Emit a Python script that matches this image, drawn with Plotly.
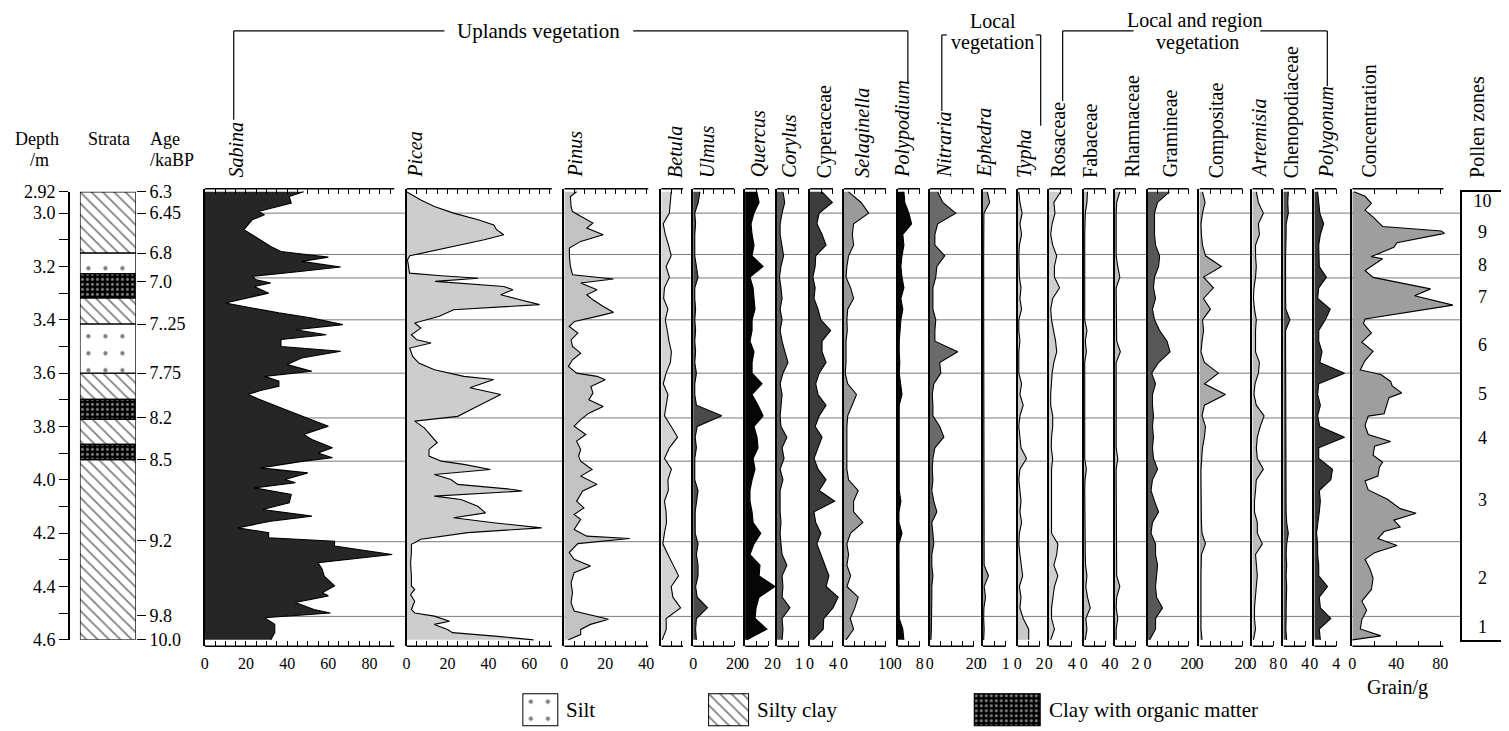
import plotly.graph_objects as go

# ======================= DATA =======================
TAXA = ["Sabina", "Picea", "Pinus", "Betula", "Ulmus", "Quercus", "Corylus",
        "Cyperaceae", "Selaginella", "Polypodium", "Nitraria", "Ephedra", "Typha",
        "Rosaceae", "Fabaceae", "Rhamnaceae", "Gramineae", "Compositae",
        "Artemisia", "Chenopodiaceae", "Polygonum", "Concentration"]
ITALIC = [True, True, True, True, True, True, True, False, True, True, True, True, True,
          False, False, False, False, False, True, False, True, False]

AXIS_MAX = [92, 71, 41, 10.7, 20, 2, 1, 4, 10, 8, 20, 1, 2, 4, 4, 2, 20, 20, 8, 4, 4, 83]
TICK_STEP = [5, 5, 5, 5, 5, 1, 0.5, 2, 2.5, 4, 5, 0.5, 1, 2, 2, 1, 5, 5, 4, 2, 2, 20]
TICK_LABELS = [[0, 20, 40, 60, 80], [0, 20, 40, 60], [0, 20, 40], [], [0, 20], [0, 2], [0, 1],
               [0, 4], [0, 10], [0, 8], [0, 20], [0, 1], [0, 2], [0, 4], [0, 4], [0, 2],
               [0, 20], [0, 20], [0, 8], [0, 4], [0, 4], [0, 40, 80]]

ZONE_BOUNDS = [3.00, 3.155, 3.243, 3.40, 3.60, 3.768, 3.93, 4.232, 4.512]
ZONE_NAMES = ["10", "9", "8", "7", "6", "5", "4", "3", "2", "1"]

DEPTH_TICKS = [2.92, 3.0, 3.1, 3.2, 3.3, 3.4, 3.5, 3.6, 3.7, 3.8, 3.9, 4.0, 4.1, 4.2, 4.3, 4.4, 4.5, 4.6]
DEPTH_LABELS = ["2.92", "3.0", "", "3.2", "", "3.4", "", "3.6", "", "3.8", "", "4.0", "", "4.2", "", "4.4", "", "4.6"]
AGE_DEPTHS = [2.92, 3.0, 3.15, 3.258, 3.416, 3.60, 3.766, 3.924, 4.227, 4.51, 4.60]
AGE_LABELS = ["6.3", "6.45", "6.8", "7.0", "7..25", "7.75", "8.2", "8.5", "9.2", "9.8", "10.0"]

STRATA_TOP = [2.92, 3.15, 3.228, 3.318, 3.416, 3.60, 3.698, 3.773, 3.867, 3.924]
STRATA_BOTTOM = [3.15, 3.228, 3.318, 3.416, 3.60, 3.698, 3.773, 3.867, 3.924, 4.60]
STRATA_TYPE = ["Silty clay", "Silt", "Clay with organic matter", "Silty clay", "Silt",
               "Silty clay", "Clay with organic matter", "Silty clay",
               "Clay with organic matter", "Silty clay"]
LEGEND_TYPES = ["Silt", "Silty clay", "Clay with organic matter"]

SABINA_D = [2.92, 2.938, 2.962, 2.975, 2.994, 3.006, 3.025, 3.062, 3.081, 3.106,
            3.125, 3.144, 3.152, 3.165, 3.181, 3.202, 3.22, 3.237, 3.25, 3.262,
            3.275, 3.30, 3.312, 3.337, 3.356, 3.374, 3.393, 3.418, 3.437, 3.456,
            3.474, 3.50, 3.518, 3.543, 3.568, 3.593, 3.612, 3.63, 3.649, 3.665,
            3.68, 3.70, 3.736, 3.774, 3.799, 3.83, 3.849, 3.88, 3.899, 3.917,
            3.93, 3.955, 3.974, 3.999, 4.011, 4.03, 4.055, 4.086, 4.111, 4.136,
            4.155, 4.18, 4.198, 4.217, 4.23, 4.248, 4.28, 4.311, 4.335, 4.361,
            4.398, 4.423, 4.435, 4.46, 4.486, 4.499, 4.517, 4.542, 4.573, 4.60]
SABINA = [48, 41, 42, 36, 26, 29, 23, 19, 23, 28,
          32, 37, 47, 60, 47, 66, 45, 23, 25, 32,
          24, 31, 24, 10, 23, 36, 52, 67, 44, 59,
          37, 37, 66, 47, 40, 52, 29, 36, 36, 27,
          21, 27, 39, 52, 60, 48, 52, 62, 55, 62,
          48, 27, 50, 39, 44, 24, 42, 41, 28, 52,
          32, 16, 31, 31, 63, 63, 91, 55, 57, 58,
          63, 57, 60, 44, 53, 61, 29, 34, 34, 32]

PICEA_D = [2.92, 2.927, 2.951, 2.975, 3.0, 3.025, 3.044, 3.062, 3.081, 3.10,
           3.125, 3.144, 3.16, 3.175, 3.20, 3.225, 3.235, 3.244, 3.256, 3.275,
           3.287, 3.306, 3.325, 3.343, 3.362, 3.374, 3.387, 3.412, 3.431, 3.456,
           3.475, 3.487, 3.506, 3.537, 3.562, 3.587, 3.612, 3.624, 3.655, 3.68,
           3.706, 3.731, 3.762, 3.78, 3.805, 3.836, 3.861, 3.886, 3.911, 3.93,
           3.942, 3.961, 3.98, 3.999, 4.017, 4.036, 4.042, 4.061, 4.074, 4.099,
           4.124, 4.142, 4.161, 4.18, 4.198, 4.223, 4.242, 4.273, 4.311, 4.361,
           4.398, 4.411, 4.43, 4.455, 4.486, 4.499, 4.511, 4.53, 4.542, 4.561,
           4.573, 4.588, 4.60]
PICEA = [0, 1.5, 7, 13.6, 23, 35, 42.6, 44, 47.5, 38,
         23, 12, 1.6, 0.5, 1, 1.5, 17, 35, 14, 47.5,
         52, 46, 55.5, 65, 23, 20, 16, 4, 7, 2.4,
         5, 12, 1.6, 3, 6, 13.6, 28, 42.6, 31, 46,
         39.6, 33, 25, 4, 8.7, 12, 15, 11, 11, 17,
         28, 41, 13.6, 21.7, 25, 52, 56.5, 13.6, 26.6, 34.8,
         38.6, 23, 42.5, 66, 30, 7, 2.4, 2.4, 2, 2.4,
         2.4, 4, 2, 4, 2.4, 4, 13.6, 21, 13.6, 20,
         22.5, 46, 62]

PINUS_D = [2.92, 2.938, 2.975, 2.994, 3.012, 3.037, 3.056, 3.081, 3.106, 3.131,
           3.162, 3.20, 3.231, 3.247, 3.262, 3.287, 3.306, 3.325, 3.35, 3.372,
           3.387, 3.406, 3.425, 3.45, 3.475, 3.50, 3.525, 3.55, 3.575, 3.60,
           3.612, 3.625, 3.65, 3.675, 3.70, 3.725, 3.75, 3.774, 3.799, 3.83,
           3.855, 3.886, 3.911, 3.93, 3.961, 3.986, 4.017, 4.042, 4.08, 4.105,
           4.13, 4.148, 4.186, 4.211, 4.22, 4.239, 4.273, 4.298, 4.323, 4.348,
           4.386, 4.423, 4.461, 4.492, 4.523, 4.542, 4.561, 4.58, 4.60]
PINUS = [6, 3, 3.3, 4, 8, 14, 11, 19, 8, 2.5,
         2.5, 3, 4, 24, 8, 16, 11, 14, 19, 24,
         16, 5, 2.4, 6.6, 3.3, 4, 8, 4, 2, 6,
         16, 20, 13, 14, 12, 19, 12, 8, 4.8, 10.5,
         6, 8, 7, 8, 13.6, 8, 16, 9, 6, 9.6,
         4.8, 8, 4.8, 11, 32, 6.6, 2.4, 4.8, 12.8, 4.8,
         3.3, 4, 3.3, 4.8, 21.6, 12.8, 8, 8, 2]

CONC_D = [2.92, 2.937, 2.963, 2.989, 3.015, 3.05, 3.067, 3.076, 3.111, 3.128,
          3.163, 3.171, 3.215, 3.241, 3.284, 3.31, 3.345, 3.397, 3.414, 3.449,
          3.484, 3.518, 3.553, 3.588, 3.605, 3.631, 3.648, 3.674, 3.692, 3.726,
          3.752, 3.761, 3.796, 3.83, 3.856, 3.874, 3.908, 3.934, 3.952, 3.986,
          4.004, 4.038, 4.073, 4.108, 4.125, 4.151, 4.177, 4.194, 4.22, 4.246,
          4.273, 4.298, 4.333, 4.368, 4.411, 4.455, 4.489, 4.524, 4.559, 4.585,
          4.60]
CONC = [1.5, 11.6, 17.4, 11.6, 19, 27.6, 81, 84, 40.7, 37.8,
        17.4, 27.6, 11.6, 18.9, 71.2, 56.7, 91.6, 11.6, 10.2, 17.4,
        8.7, 18.9, 11.6, 7.3, 26, 34.9, 36.3, 45, 33.4, 30.5,
        29, 14.5, 11.6, 14.5, 34.9, 20.3, 18.9, 27.6, 24.7, 23.3,
        11.6, 14.5, 32, 43.6, 58.1, 37.8, 43.6, 29, 23.3, 40.7,
        20.3, 11.6, 16, 18.9, 17.4, 8.7, 13.1, 8.7, 7.3, 26,
        0]

# common sampling depths for the minor taxa
GRID = [2.92, 2.96, 3.00, 3.04, 3.08, 3.12, 3.16, 3.20, 3.24, 3.28,
        3.32, 3.36, 3.40, 3.44, 3.48, 3.52, 3.56, 3.60, 3.64, 3.68,
        3.72, 3.76, 3.80, 3.84, 3.88, 3.92, 3.96, 4.00, 4.04, 4.08,
        4.12, 4.16, 4.20, 4.24, 4.28, 4.32, 4.36, 4.40, 4.44, 4.48,
        4.52, 4.56, 4.60]
BETULA = [4.9, 4.5, 4.0, 1.0, 2.0, 3.6, 4.9, 2.4, 4.0, 1.6,
          1.2, 3.3, 2.0, 3.0, 3.8, 5.0, 4.5, 2.4, 1.0, 3.3,
          2.4, 1.6, 4.9, 8.0, 4.0, 1.6, 5.0, 3.3, 3.5, 1.6,
          2.4, 2.6, 1.6, 0.8, 3.3, 5.7, 8.5, 4.9, 5.7, 9.5,
          2.4, 2.5, 0.5]
ULMUS = [3.3, 2.5, 0.8, 1.2, 0.8, 0.8, 0.8, 1.6, 2.4, 0.8,
         0.8, 1.2, 0.8, 1.2, 0.8, 1.2, 0.8, 1.6, 0.8, 0.8,
         1.6, 14, 2.0, 1.0, 1.6, 0.8, 0.8, 0.8, 2.4, 1.6,
         1.0, 1.0, 1.0, 2.4, 1.6, 2.4, 2.4, 1.2, 2.0, 7.0,
         1.6, 1.2, 1.6]
QUERCUS = [1.02, 1.22, 0.78, 0.52, 0.61, 0.78, 0.61, 1.57, 0.43, 0.7,
           0.78, 0.87, 0.61, 0.61, 0.43, 0.78, 0.61, 0.61, 1.48, 0.61,
           1.13, 1.57, 0.78, 1.04, 1.13, 0.7, 0.87, 0.61, 0.43, 0.43,
           0.61, 0.7, 1.37, 0.78, 0.43, 1.3, 1.22, 2.61, 1.22, 0.96,
           0.87, 1.9, 0.17]
CORYLUS = [0.27, 0.35, 0.23, 0.14, 0.14, 0.23, 0.3, 0.18, 0.11, 0.18,
           0.23, 0.14, 0.23, 0.14, 0.23, 0.36, 0.5, 0.27, 0.14, 0.23,
           0.18, 0.14, 0.18, 0.45, 0.23, 0.32, 0.14, 0.27, 0.14, 0.14,
           0.14, 0.18, 0.14, 0.18, 0.23, 0.45, 0.23, 0.27, 0.23, 0.59,
           0.23, 0.27, 0.23]
CYPERACEAE = [2.1, 3.9, 1.6, 1.2, 2.1, 2.8, 1.0, 0.9, 0.5, 0.9,
              0.7, 1.4, 1.9, 3.6, 2.1, 2.1, 2.8, 1.6, 1.0, 1.4,
              2.8, 1.6, 0.9, 2.1, 1.4, 0.7, 1.4, 2.8, 1.6, 4.3,
              0.7, 1.0, 1.9, 1.2, 1.9, 2.6, 3.3, 2.8, 4.9, 4.0,
              2.4, 2.3, 0.5]
SELAGINELLA = [1.1, 4.1, 5.9, 2.3, 2.0, 2.3, 1.1, 0.7, 0.5, 1.6,
               2.3, 0.9, 0.7, 0.8, 0.5, 0.5, 0.5, 0.3, 0.9, 3.0,
               1.9, 0.9, 0.7, 0.7, 0.7, 0.7, 0.7, 1.1, 3.4, 2.3,
               2.3, 4.5, 1.6, 0.7, 1.1, 0.7, 1.6, 0.7, 3.4, 2.6,
               1.5, 2.3, 0.5]
POLYPODIUM = [2.2, 2.5, 4.0, 5.0, 1.8, 2.2, 1.5, 1.1, 1.5, 2.2,
              1.1, 1.8, 1.1, 0.7, 0.5, 0.5, 0.7, 0.5, 1.1, 1.5,
              0.5, 0.5, 0.5, 0.4, 0.4, 0.4, 0.4, 0.4, 0.5, 1.1,
              0.4, 0.4, 1.5, 0.4, 0.4, 0.4, 0.4, 0.4, 0.4, 0.4,
              0.5, 1.8, 2.2]
NITRARIA = [3.6, 5.9, 11.8, 3.6, 2.3, 2.3, 6.8, 3.2, 2.7, 1.4,
            1.4, 1.4, 2.7, 2.3, 2.3, 12.7, 4.5, 5.0, 1.8, 1.1,
            1.4, 1.4, 4.5, 6.4, 2.3, 1.4, 1.1, 1.4, 0.9, 1.8,
            3.2, 0.9, 1.4, 1.8, 0.9, 0.9, 1.4, 0.9, 0.9, 0.9,
            0.7, 0.7, 0.5]
EPHEDRA = [0.2, 0.3, 0.05, 0.04, 0.04, 0.04, 0.04, 0.04, 0.05, 0.04,
           0.04, 0.04, 0.04, 0.04, 0.04, 0.04, 0.04, 0.04, 0.04, 0.04,
           0.04, 0.04, 0.04, 0.04, 0.04, 0.04, 0.04, 0.04, 0.04, 0.05,
           0.04, 0.04, 0.04, 0.04, 0.04, 0.06, 0.25, 0.06, 0.12, 0.05,
           0.04, 0.06, 0.04]
TYPHA = [0.1, 0.2, 0.4, 0.2, 0.35, 0.15, 0.1, 0.1, 0.15, 0.3,
         0.2, 0.35, 0.1, 0.1, 0.2, 0.1, 0.1, 0.1, 0.35, 0.2,
         0.5, 0.2, 0.1, 0.2, 0.3, 0.8, 0.2, 0.1, 0.2, 0.3,
         0.2, 0.35, 0.15, 0.1, 0.2, 0.3, 0.45, 0.15, 0.3, 0.2,
         0.5, 1.0, 1.0]
ROSACEAE = [2.1, 0.9, 1.1, 0.6, 0.35, 0.7, 1.4, 1.0, 1.0, 1.9,
            0.7, 0.35, 0.5, 0.9, 1.2, 1.4, 0.9, 0.6, 0.45, 0.35,
            0.35, 0.7, 0.7, 0.5, 0.45, 0.7, 0.5, 0.5, 0.5, 0.5,
            0.5, 0.5, 0.5, 1.6, 1.4, 0.9, 1.6, 1.0, 0.7, 0.5,
            0.5, 1.0, 0.35]
FABACEAE = [0.7, 0.6, 0.3, 0.2, 0.2, 0.2, 0.2, 0.25, 0.2, 0.2,
            0.25, 0.2, 0.2, 0.6, 0.3, 0.5, 0.2, 0.2, 0.25, 0.2,
            0.2, 0.2, 0.3, 0.25, 0.2, 0.2, 0.5, 0.25, 0.2, 0.2,
            0.3, 0.2, 0.2, 0.25, 0.3, 0.35, 0.6, 0.4, 0.7, 1.2,
            0.4, 0.6, 0.3]
RHAMNACEAE = [0.5, 0.2, 0.15, 0.15, 0.15, 0.15, 0.15, 0.3, 0.5, 0.15,
              0.15, 0.15, 0.15, 0.15, 0.2, 0.55, 0.15, 0.15, 0.15, 0.15,
              0.15, 0.15, 0.15, 0.15, 0.15, 0.3, 0.15, 0.15, 0.15, 0.15,
              0.15, 0.15, 0.15, 0.15, 0.15, 0.15, 0.2, 0.5, 0.2, 0.15,
              0.3, 0.15, 0.15]
GRAMINEAE = [10.7, 4.9, 3.4, 3.4, 3.4, 3.9, 5.9, 5.4, 3.4, 2.9,
             3.9, 2.4, 3.4, 5.9, 9.5, 11.0, 5.4, 2.0, 3.9, 2.4,
             2.4, 2.9, 2.4, 2.9, 2.4, 2.9, 4.9, 2.4, 1.7, 3.4,
             5.4, 2.4, 1.7, 3.9, 3.9, 4.9, 4.4, 3.9, 4.4, 7.3,
             3.9, 3.9, 1.0]
COMPOSITAE = [1.4, 2.6, 1.4, 0.7, 0.9, 1.4, 2.8, 10.2, 1.9, 6.5,
              1.9, 5.1, 1.4, 1.9, 1.2, 0.7, 2.3, 8.8, 2.3, 12.1,
              2.3, 1.2, 2.8, 2.3, 1.4, 0.9, 0.7, 0.7, 0.7, 0.7,
              0.7, 0.9, 1.2, 2.8, 0.9, 0.7, 0.7, 0.7, 0.7, 0.7,
              0.9, 0.7, 1.2]
ARTEMISIA = [1.5, 2.3, 4.2, 2.3, 2.7, 1.2, 1.2, 1.5, 1.2, 0.6,
             0.4, 0.8, 1.5, 1.2, 1.2, 1.2, 2.7, 2.3, 1.0, 0.6,
             1.5, 4.5, 3.0, 1.9, 1.5, 1.9, 4.2, 1.5, 1.2, 0.8,
             0.8, 1.9, 1.9, 3.8, 1.2, 1.5, 1.9, 1.5, 1.2, 0.8,
             0.8, 1.2, 0.4]
CHENOPODIACEAE = [0.9, 0.8, 0.9, 0.5, 0.5, 0.4, 0.4, 0.4, 0.45, 0.4,
                  0.4, 0.45, 1.2, 0.4, 0.4, 0.4, 0.4, 0.4, 0.4, 0.4,
                  0.45, 0.45, 0.5, 0.5, 0.45, 0.45, 0.5, 0.45, 0.45, 0.5,
                  0.5, 0.6, 0.9, 0.6, 0.5, 0.6, 0.5, 0.6, 0.5, 0.5,
                  0.5, 0.45, 0.6]
POLYGONUM = [0.6, 0.8, 1.0, 1.7, 1.1, 0.8, 0.8, 0.9, 2.2, 0.8,
             0.6, 2.9, 2.0, 0.8, 0.8, 1.4, 1.0, 5.5, 0.8, 0.6,
             1.1, 0.6, 1.0, 5.5, 0.8, 0.8, 3.3, 3.0, 0.9, 1.1,
             0.9, 0.6, 0.4, 0.6, 0.6, 0.8, 0.8, 2.4, 0.9, 1.1,
             3.0, 0.9, 1.1]

SERIES = {
    "Sabina": (SABINA_D, SABINA), "Picea": (PICEA_D, PICEA), "Pinus": (PINUS_D, PINUS),
    "Betula": (GRID, BETULA), "Ulmus": (GRID, ULMUS), "Quercus": (GRID, QUERCUS),
    "Corylus": (GRID, CORYLUS), "Cyperaceae": (GRID, CYPERACEAE),
    "Selaginella": (GRID, SELAGINELLA), "Polypodium": (GRID, POLYPODIUM),
    "Nitraria": (GRID, NITRARIA), "Ephedra": (GRID, EPHEDRA), "Typha": (GRID, TYPHA),
    "Rosaceae": (GRID, ROSACEAE), "Fabaceae": (GRID, FABACEAE),
    "Rhamnaceae": (GRID, RHAMNACEAE), "Gramineae": (GRID, GRAMINEAE),
    "Compositae": (GRID, COMPOSITAE), "Artemisia": (GRID, ARTEMISIA),
    "Chenopodiaceae": (GRID, CHENOPODIACEAE), "Polygonum": (GRID, POLYGONUM),
    "Concentration": (CONC_D, CONC),
}

# ======================= LAYOUT / STYLE =======================
W, H = 1509, 731
FONT = "Liberation Serif"
ZERO_PX = [203, 405, 563, 660, 692, 744, 776, 809, 843, 897, 929, 982, 1017, 1048,
           1083, 1114, 1147, 1199, 1252, 1283, 1314, 1352]
PX_PER_UNIT = [2.0625, 2.05, 2.05, 2.05, 2.05, 11.5, 22, 5.75, 4.2, 2.75, 2.2, 23, 11,
               5.75, 5.5, 10.5, 2.05, 2.15, 2.6, 5.5, 5.5, 1.1]
LABEL_X = [234, 414, 574, 674, 706, 757, 789, 823, 862, 902, 943, 984, 1024, 1057,
           1090, 1131, 1169, 1216, 1258, 1291, 1326, 1369]
FILL = ["#262626", "#cdcdcd", "#c2c2c2", "#d4d4d4", "#4a4a4a", "#050505", "#5a5a5a",
        "#3c3c3c", "#9a9a9a", "#080808", "#6a6a6a", "#9c9c9c", "#c8c8c8", "#cfcfcf",
        "#bdbdbd", "#bdbdbd", "#575757", "#ababab", "#bdbdbd", "#555555", "#383838",
        "#9e9e9e"]
PATTERNS = {
    "Silty clay": dict(color="white", pattern=dict(shape="\\", fgcolor="black", bgcolor="white",
                                                   size=8, solidity=0.22)),
    "Silt": dict(color="white", pattern=dict(shape=".", fgcolor="black", bgcolor="white",
                                             size=17, solidity=0.05)),
    "Clay with organic matter": dict(color="black", pattern=dict(shape=".", fgcolor="white",
                                                                 bgcolor="black", size=5,
                                                                 solidity=0.3)),
}

# page-pixel positions below are converted to figure fractions by px_x / px_y
PX_PER_M = 267.0
Y0_PX = 192.0          # row of depth 2.92
D_TOP, D_BOT = 2.92, 4.60
PANEL_TOP_PX, PANEL_BOT_PX = 189, 647
OVERSHOOT_PX = 14
LABEL_BOTTOM_PX = 180


def px_x(p):
    return (p - 10 + 2 * p / 1462) / W


def px_y(p):
    return 1 - (1.027 * p - 18.5) / H


def depth_px(d):
    return Y0_PX + (d - D_TOP) * PX_PER_M


def fmt(v):
    return str(int(v)) if abs(v - round(v)) < 1e-9 else str(v)


panel_range = [D_TOP + (PANEL_BOT_PX - Y0_PX) / PX_PER_M, D_TOP + (PANEL_TOP_PX - Y0_PX) / PX_PER_M]
panel_ydom = [px_y(PANEL_BOT_PX), px_y(PANEL_TOP_PX)]
strata_ydom = [px_y(depth_px(D_BOT)), px_y(depth_px(D_TOP))]

fig = go.Figure()
layout = {}
shapes = []
annotations = []


def axname(kind, n):
    return f"{kind}axis" if n == 1 else f"{kind}axis{n}"


def ref(kind, n):
    return kind if n == 1 else f"{kind}{n}"


# ---------- pollen panels ----------
for i, name in enumerate(TAXA):
    n = i + 1
    xa, ya = ref("x", n), ref("y", n)
    zero, ppu, amax = ZERO_PX[i], PX_PER_UNIT[i], AXIS_MAX[i]
    line_px = amax * ppu
    rng_max = (line_px + OVERSHOOT_PX) / ppu
    depths, vals = SERIES[name]
    assert len(depths) == len(vals), name
    fig.add_trace(go.Scatter(x=vals, y=depths, xaxis=xa, yaxis=ya, mode="lines",
                             fill="tozerox", fillcolor=FILL[i],
                             line=dict(color="black", width=1.1),
                             hoverinfo="skip", showlegend=False))
    step = TICK_STEP[i]
    tv = []
    k = 0
    while k * step <= amax + 1e-9:
        tv.append(round(k * step, 4))
        k += 1
    tt = [fmt(v) if any(abs(v - l) < 1e-9 for l in TICK_LABELS[i]) else "" for v in tv]
    layout[axname("x", n)] = dict(
        domain=[px_x(zero), px_x(zero + line_px + OVERSHOOT_PX)], range=[0, rng_max],
        anchor=ya, showgrid=False, zeroline=False, showline=True, linecolor="rgba(0,0,0,0)",
        ticks="inside", ticklen=5, tickwidth=1, tickcolor="black", mirror="ticks",
        tickmode="array", tickvals=tv, ticktext=tt, ticklabelstandoff=3,
        tickfont=dict(family=FONT, size=16, color="black"), fixedrange=True)
    layout[axname("y", n)] = dict(
        domain=panel_ydom, range=panel_range, anchor=xa, showgrid=False, zeroline=False,
        showline=True, linecolor="black", linewidth=1.5, showticklabels=False, ticks="",
        fixedrange=True)
    for yy in (0, 1):
        shapes.append(dict(type="line", xref=xa, yref=f"{ya} domain", x0=0, x1=amax,
                           y0=yy, y1=yy, line=dict(color="black", width=1.5)))
    annotations.append(dict(
        x=px_x(LABEL_X[i]), y=px_y(LABEL_BOTTOM_PX), xref="paper", yref="paper",
        text=f"<i>{name}</i>" if ITALIC[i] else name, textangle=-90,
        xanchor="center", yanchor="bottom", showarrow=False,
        font=dict(family=FONT, size=20, color="black")))

# ---------- zone lines ----------
for b in ZONE_BOUNDS:
    shapes.append(dict(type="line", xref="paper", yref="y", x0=px_x(203), x1=px_x(1462),
                       y0=b, y1=b, line=dict(color="#7a7a7a", width=1), layer="below"))

# ---------- strata column ----------
NS = len(TAXA) + 1
xs, ys = ref("x", NS), ref("y", NS)
for stype in ["Silty clay", "Silt", "Clay with organic matter"]:
    idx = [j for j, t in enumerate(STRATA_TYPE) if t == stype]
    fig.add_trace(go.Bar(
        x=[0] * len(idx), y=[STRATA_BOTTOM[j] - STRATA_TOP[j] for j in idx],
        base=[STRATA_TOP[j] for j in idx], width=1, xaxis=xs, yaxis=ys,
        marker=dict(color=PATTERNS[stype]["color"], pattern=PATTERNS[stype]["pattern"],
                    line=dict(color="black", width=1.3)),
        hoverinfo="skip", showlegend=False))
layout[axname("x", NS)] = dict(domain=[px_x(78), px_x(134)], range=[-0.5, 0.5],
                               anchor=ys, visible=False, fixedrange=True)
layout[axname("y", NS)] = dict(
    domain=strata_ydom, range=[D_BOT, D_TOP], anchor=xs, side="right", showgrid=False,
    zeroline=False, showline=False, ticks="outside", ticklen=9, tickwidth=1.3,
    tickcolor="black", tickmode="array", tickvals=AGE_DEPTHS, ticktext=AGE_LABELS,
    tickfont=dict(family=FONT, size=18, color="black"), fixedrange=True)

# ---------- depth axis ----------
ND = NS + 1
fig.add_trace(go.Scatter(x=[0], y=[D_TOP], xaxis=xs, yaxis=ref("y", ND), mode="markers",
                         marker=dict(opacity=0), hoverinfo="skip", showlegend=False))
layout[axname("y", ND)] = dict(
    overlaying=ys, anchor="free", position=px_x(67), side="left", range=[D_BOT, D_TOP],
    showgrid=False, zeroline=False, showline=True, linecolor="black", linewidth=1.5,
    ticks="outside", ticklen=9, tickwidth=1.3, tickcolor="black", tickmode="array",
    tickvals=DEPTH_TICKS, ticktext=DEPTH_LABELS,
    tickfont=dict(family=FONT, size=18, color="black"), fixedrange=True)

# ---------- pollen zone box ----------
NZ = ND + 1
zb = [D_TOP] + ZONE_BOUNDS + [D_BOT]
mids = [(zb[j] + zb[j + 1]) / 2 for j in range(len(ZONE_NAMES))]
fig.add_trace(go.Scatter(x=[0.5] * len(mids), y=mids, text=ZONE_NAMES, mode="text",
                         textfont=dict(family=FONT, size=18, color="black"),
                         xaxis=ref("x", NZ), yaxis=ref("y", NZ), hoverinfo="skip",
                         showlegend=False))
layout[axname("x", NZ)] = dict(domain=[px_x(1462), px_x(1503)], range=[0, 1], anchor=ref("y", NZ),
                               showline=True, mirror=True, linecolor="black", linewidth=1.5,
                               showticklabels=False, ticks="", showgrid=False, zeroline=False,
                               fixedrange=True)
layout[axname("y", NZ)] = dict(domain=strata_ydom, range=[D_BOT, D_TOP], anchor=ref("x", NZ),
                               showline=True, mirror=True, linecolor="black", linewidth=1.5,
                               showticklabels=False, ticks="", showgrid=False, zeroline=False,
                               fixedrange=True)
annotations.append(dict(x=px_x(1477), y=px_y(LABEL_BOTTOM_PX), xref="paper", yref="paper",
                        text="Pollen zones", textangle=-90, xanchor="center", yanchor="bottom",
                        showarrow=False, font=dict(family=FONT, size=20, color="black")))

# ---------- legend boxes ----------
LEG_BOX_PX = [(521, 557), (707, 748), (973, 1040)]
LEG_TEXT_PX = [563, 754, 1046]
for j, stype in enumerate(LEGEND_TYPES):
    n = NZ + 1 + j
    fig.add_trace(go.Bar(x=[0.5], y=[1], base=[0], width=1, xaxis=ref("x", n), yaxis=ref("y", n),
                         marker=dict(color=PATTERNS[stype]["color"],
                                     pattern=PATTERNS[stype]["pattern"],
                                     line=dict(color="black", width=2)),
                         hoverinfo="skip", showlegend=False))
    layout[axname("x", n)] = dict(domain=[px_x(LEG_BOX_PX[j][0]), px_x(LEG_BOX_PX[j][1])],
                                  range=[0, 1], anchor=ref("y", n), visible=False, fixedrange=True)
    layout[axname("y", n)] = dict(domain=[px_y(727), px_y(694)], range=[0, 1],
                                  anchor=ref("x", n), visible=False, fixedrange=True)
    annotations.append(dict(x=px_x(LEG_TEXT_PX[j]), y=px_y(711), xref="paper", yref="paper",
                            text=stype, xanchor="left", yanchor="middle", showarrow=False,
                            font=dict(family=FONT, size=21, color="black")))


# ---------- headers & group brackets ----------
def txt(x, y, s, size=19, anchor="center"):
    annotations.append(dict(x=px_x(x), y=px_y(y), xref="paper", yref="paper", text=s,
                            xanchor=anchor, yanchor="middle", showarrow=False,
                            font=dict(family=FONT, size=size, color="black")))


txt(35, 139, "Depth", 18)
txt(38, 160, "/m", 18)
txt(107, 139, "Strata", 18)
txt(163, 139, "Age", 18)
txt(170, 160, "/kaBP", 18)
txt(537, 31, "Uplands vegetation", 21)
txt(992, 21, "Local", 20)
txt(992, 43, "vegetation", 20)
txt(1195, 21, "Local and region", 20)
txt(1197, 43, "vegetation", 20)
txt(1397, 688, "Grain/g", 20)

BRACKETS = [
    (232, 120, 232, 31), (232, 31, 443, 31), (632, 31, 907, 31), (907, 31, 907, 82),
    (941, 35, 941, 111), (941, 35, 946, 35), (1040, 35, 1040, 126), (1035, 35, 1040, 35),
    (1062, 31, 1062, 101), (1062, 31, 1133, 31), (1260, 31, 1327, 31), (1327, 31, 1327, 86),
]
for x0, y0, x1, y1 in BRACKETS:
    shapes.append(dict(type="line", xref="paper", yref="paper", x0=px_x(x0), y0=px_y(y0),
                       x1=px_x(x1), y1=px_y(y1), line=dict(color="black", width=1.2)))

fig.update_layout(
    width=W, height=H, margin=dict(l=0, r=0, t=0, b=0), paper_bgcolor="white",
    plot_bgcolor="rgba(0,0,0,0)", barmode="overlay", showlegend=False,
    shapes=shapes, annotations=annotations, font=dict(family=FONT, color="black"),
    **layout)

fig.write_html("out.html")
